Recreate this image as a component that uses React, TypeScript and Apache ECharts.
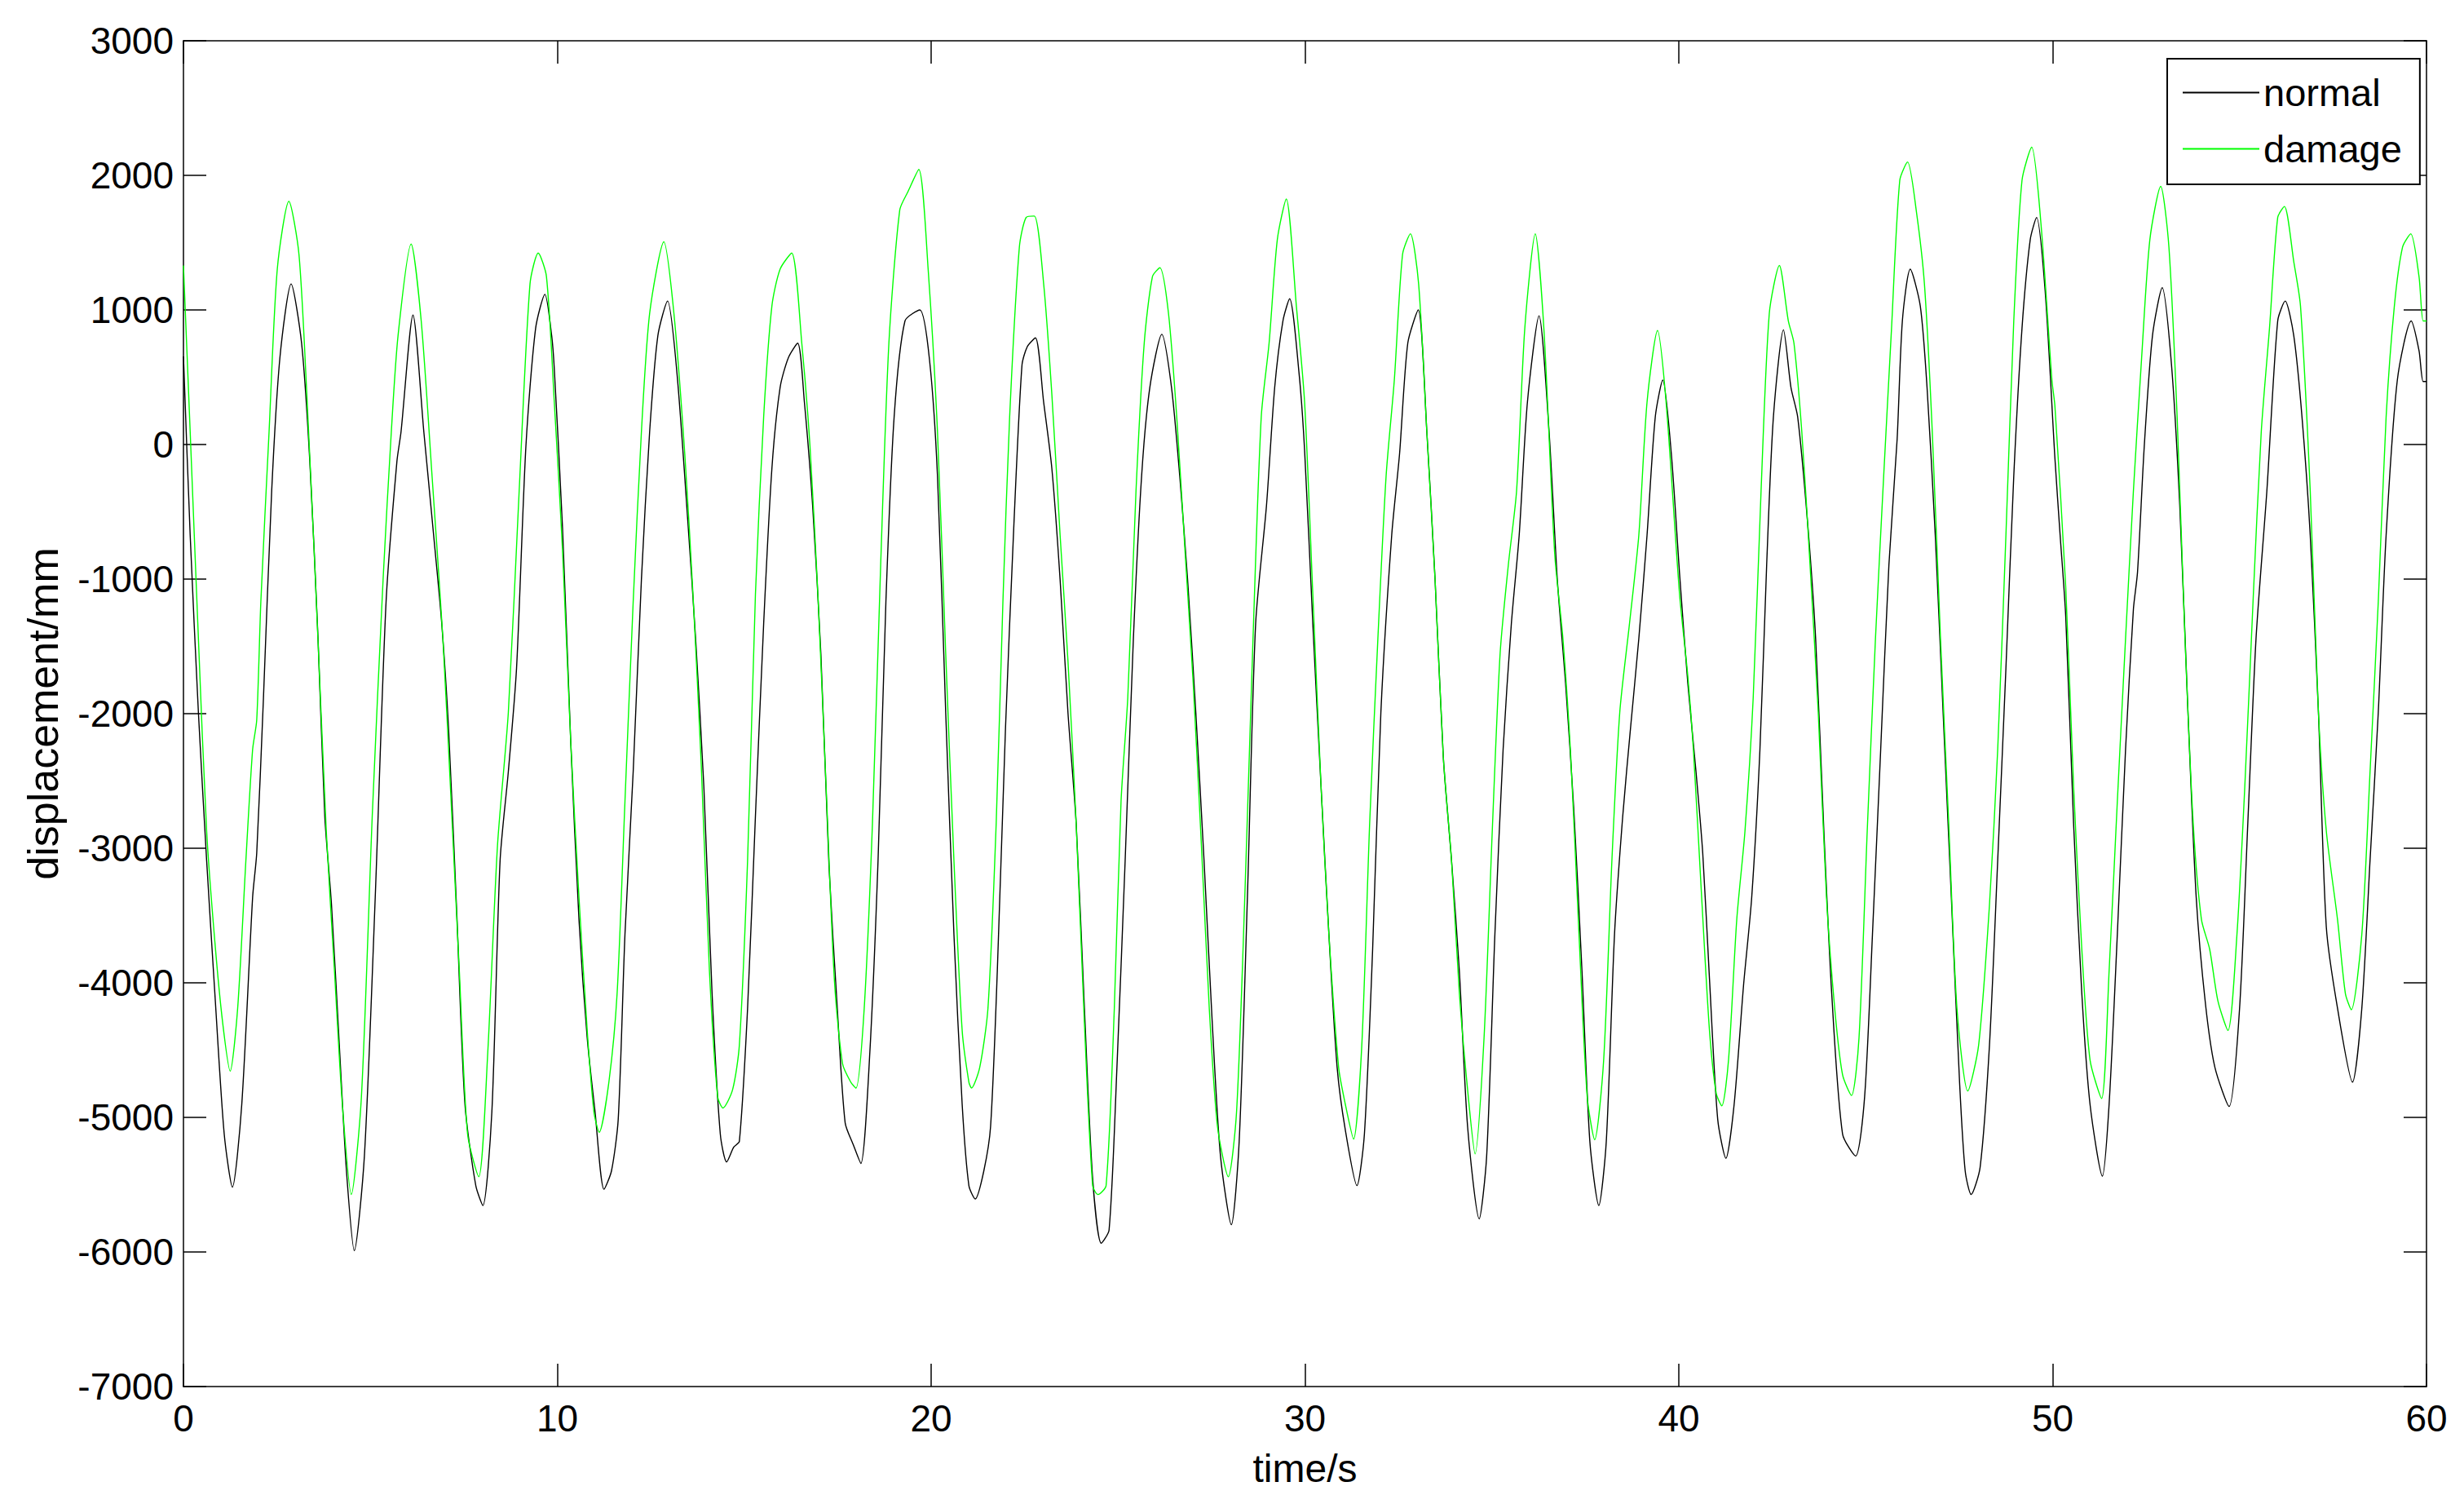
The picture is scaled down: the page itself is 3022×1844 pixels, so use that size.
import React, { useEffect, useRef } from "react";
import * as echarts from "echarts";

// time (s) and displacement (mm)
const normalData: [number, number][] = [
  [0, 655], [0.18, -674], [0.4, -1992], [0.62, -3091], [0.84, -4079], [1.09, -5123], [1.31, -5518], [1.56, -4903],
  [1.85, -3365], [1.96, -3036], [2.14, -1883], [2.36, -345], [2.58, 644], [2.88, 1193], [3.16, 753], [3.38, -125],
  [3.6, -1443], [3.78, -2761], [3.96, -3420], [4.18, -4518], [4.36, -5397], [4.57, -5990], [4.84, -5287], [5.13, -3365],
  [5.42, -1169], [5.71, -125], [5.82, 94], [6.14, 962], [6.43, 94], [6.73, -784], [6.91, -1333], [7.09, -2102],
  [7.31, -3475], [7.53, -4903], [7.82, -5507], [8.01, -5655], [8.25, -4958], [8.47, -3091], [8.69, -2432], [8.91, -1663],
  [9.16, -15], [9.42, 863], [9.67, 1116], [9.85, 808], [9.92, 561], [10.14, -620], [10.36, -2212], [10.58, -3530],
  [10.8, -4409], [11.01, -4958], [11.25, -5534], [11.45, -5397], [11.63, -5013], [11.81, -3640], [12.03, -2432], [12.25, -1004],
  [12.47, 94], [12.69, 808], [12.95, 1066], [13.2, 534], [13.49, -564], [13.7, -1443], [13.92, -2541], [14.14, -4079],
  [14.36, -5123], [14.53, -5331], [14.72, -5221], [14.87, -5178], [15.09, -4189], [15.3, -2761], [15.52, -1333], [15.74, -180],
  [15.96, 424], [16.18, 644], [16.43, 753], [16.61, 314], [16.83, -455], [17.05, -1553], [17.27, -3145], [17.49, -4189],
  [17.7, -5040], [17.92, -5205], [18.12, -5342], [18.36, -4518], [18.58, -3091], [18.79, -1169], [19.01, 204], [19.3, 918],
  [19.7, 1000], [19.96, 620], [20.17, -235], [20.39, -1992], [20.61, -3640], [20.83, -4903], [21.01, -5507], [21.18, -5606],
  [21.41, -5397], [21.59, -5068], [21.77, -3914], [21.99, -2102], [22.21, -619], [22.43, 589], [22.57, 726], [22.79, 792],
  [23.01, 314], [23.23, -180], [23.45, -1004], [23.66, -1992], [23.88, -2816], [24.1, -4189], [24.32, -5452], [24.55, -5935],
  [24.76, -5836], [24.97, -4628], [25.19, -3091], [25.41, -1443], [25.63, -235], [25.85, 424], [26.17, 819], [26.43, 424],
  [26.65, -235], [26.86, -1004], [27.08, -1992], [27.3, -3091], [27.52, -4299], [27.74, -5287], [28.03, -5798], [28.24, -5178],
  [28.46, -3365], [28.68, -1333], [28.97, -455], [29.19, 424], [29.41, 918], [29.59, 1083], [29.84, 534], [29.99, -43],
  [30.21, -1333], [30.43, -2541], [30.64, -3640], [30.86, -4628], [31.08, -5095], [31.39, -5507], [31.59, -5123], [31.81, -3750],
  [32.03, -1992], [32.32, -674], [32.53, -70], [32.75, 753], [33.03, 1000], [33.26, 94], [33.48, -1004], [33.7, -2322],
  [33.92, -3091], [34.13, -3914], [34.35, -5068], [34.66, -5754], [34.86, -5287], [35.08, -3640], [35.3, -2267], [35.52, -1333],
  [35.73, -674], [35.95, 314], [36.26, 957], [36.53, 94], [36.75, -1004], [36.97, -1773], [37.19, -2706], [37.41, -3914],
  [37.62, -5178], [37.86, -5655], [38.06, -5178], [38.28, -3640], [38.5, -2761], [38.71, -2102], [38.93, -1443], [39.15, -674],
  [39.37, 204], [39.57, 479], [39.8, -70], [40.02, -960], [40.24, -1773], [40.46, -2432], [40.64, -3036], [40.82, -3969],
  [41.04, -5013], [41.26, -5304], [41.48, -4903], [41.73, -4024], [41.95, -3365], [42.17, -2267], [42.35, -894], [42.53, 204],
  [42.8, 852], [43.0, 424], [43.18, 204], [43.44, -564], [43.66, -1443], [43.88, -2871], [44.09, -4079], [44.38, -5123],
  [44.73, -5287], [44.97, -4848], [45.18, -3640], [45.4, -2267], [45.62, -894], [45.84, 39], [45.98, 918], [46.19, 1303],
  [46.46, 1028], [46.64, 424], [46.86, -674], [47.07, -1992], [47.29, -3365], [47.51, -4738], [47.66, -5397], [47.82, -5573],
  [48.06, -5370], [48.31, -4463], [48.53, -3091], [48.75, -1663], [48.96, -235], [49.18, 863], [49.4, 1522], [49.57, 1687],
  [49.8, 1138], [50.06, -100], [50.2, -674], [50.35, -1278], [50.56, -2816], [50.78, -4079], [51.0, -4903], [51.33, -5436],
  [51.51, -4903], [51.73, -3640], [51.95, -2267], [52.16, -1224], [52.27, -949], [52.45, -15], [52.67, 808], [52.93, 1165],
  [53.18, 589], [53.4, -455], [53.62, -1992], [53.84, -3365], [54.09, -4162], [54.34, -4628], [54.72, -4919], [55.0, -4189],
  [55.22, -2816], [55.44, -1443], [55.73, -345], [56.02, 918], [56.22, 1066], [56.45, 808], [56.67, 204], [56.89, -674],
  [57.11, -1992], [57.32, -3585], [57.62, -4189], [58.02, -4738], [58.27, -4189], [58.49, -3091], [58.71, -1992], [58.92, -674],
  [59.22, 479], [59.59, 918], [59.8, 698], [59.91, 468], [60, 468],
];

const damageData: [number, number][] = [
  [0, 1330], [0.18, 94], [0.4, -1443], [0.62, -2871], [0.84, -3695], [1.05, -4299], [1.25, -4656], [1.45, -4189],
  [1.67, -3091], [1.85, -2267], [1.96, -2047], [2.07, -1169], [2.29, 94], [2.51, 1303], [2.82, 1808], [3.09, 1412],
  [3.31, 314], [3.53, -1004], [3.82, -2871], [4.04, -3914], [4.25, -4903], [4.49, -5573], [4.76, -4848], [5.05, -2761],
  [5.34, -1004], [5.56, 94], [5.74, 808], [6.09, 1489], [6.36, 918], [6.65, -235], [6.94, -1443], [7.16, -2651],
  [7.38, -3914], [7.6, -5123], [7.9, -5441], [8.14, -4518], [8.4, -2981], [8.69, -1992], [8.98, -345], [9.27, 1193],
  [9.49, 1423], [9.71, 1248], [9.92, 314], [10.14, -784], [10.36, -2212], [10.58, -3365], [10.8, -4354], [10.98, -4958],
  [11.12, -5111], [11.38, -4738], [11.6, -4079], [11.81, -2651], [12.03, -1169], [12.25, 94], [12.47, 973], [12.85, 1506],
  [13.12, 973], [13.41, -70], [13.63, -1114], [13.85, -2377], [14.07, -3914], [14.29, -4848], [14.43, -4930], [14.69, -4793],
  [14.87, -4463], [15.09, -3091], [15.3, -1114], [15.52, 204], [15.74, 1028], [15.96, 1303], [16.27, 1423], [16.54, 753],
  [16.76, -15], [16.98, -1169], [17.19, -2541], [17.41, -3969], [17.63, -4601], [17.85, -4738], [17.99, -4782], [18.21, -4189],
  [18.43, -2816], [18.65, -894], [18.87, 753], [19.16, 1742], [19.38, 1879], [19.67, 2044], [19.92, 1303], [20.17, 94],
  [20.39, -1553], [20.61, -3091], [20.83, -4354], [21.01, -4738], [21.08, -4782], [21.3, -4628], [21.52, -4189], [21.74, -2816],
  [21.92, -1169], [22.1, 204], [22.36, 1467], [22.54, 1687], [22.76, 1698], [23.01, 1193], [23.23, 369], [23.45, -674],
  [23.66, -1608], [23.88, -2816], [24.1, -4299], [24.32, -5507], [24.46, -5573], [24.68, -5507], [24.9, -4189], [25.08, -2651],
  [25.26, -1882], [25.48, -345], [25.7, 753], [25.92, 1248], [26.12, 1314], [26.35, 973], [26.57, 204], [26.79, -784],
  [27.01, -1773], [27.23, -2981], [27.44, -4189], [27.66, -5068], [27.95, -5441], [28.17, -4958], [28.39, -3365], [28.61, -1443],
  [28.83, 204], [29.04, 753], [29.26, 1522], [29.5, 1824], [29.77, 1028], [29.99, 314], [30.21, -1114], [30.43, -2541],
  [30.64, -3640], [30.9, -4628], [31.08, -4903], [31.3, -5161], [31.52, -4463], [31.73, -2816], [31.95, -1443], [32.17, -235],
  [32.39, 479], [32.61, 1412], [32.82, 1566], [33.04, 1193], [33.26, 94], [33.48, -1004], [33.7, -2322], [33.92, -3091],
  [34.13, -4079], [34.35, -4793], [34.55, -5271], [34.79, -4409], [35.01, -2871], [35.22, -1553], [35.44, -894], [35.66, -345],
  [35.88, 863], [36.16, 1566], [36.39, 863], [36.68, -812], [36.9, -1443], [37.11, -2322], [37.33, -3640], [37.55, -4848],
  [37.75, -5166], [37.99, -4573], [38.21, -3091], [38.42, -1992], [38.68, -1333], [38.93, -674], [39.15, 314], [39.43, 847],
  [39.66, 314], [40.02, -1114], [40.24, -1718], [40.39, -2267], [40.6, -3310], [40.82, -4354], [41.0, -4821], [41.15, -4914],
  [41.33, -4573], [41.55, -3530], [41.77, -2871], [41.99, -1882], [42.2, -345], [42.42, 973], [42.69, 1330], [42.93, 918],
  [43.08, 753], [43.29, 94], [43.51, -894], [43.73, -1992], [43.95, -3365], [44.17, -4189], [44.38, -4683], [44.62, -4837],
  [44.82, -4409], [45.04, -2871], [45.26, -1443], [45.48, -235], [45.69, 863], [45.91, 1962], [46.12, 2099], [46.35, 1742],
  [46.57, 1193], [46.78, 94], [47.0, -1443], [47.22, -2816], [47.44, -4189], [47.73, -4804], [48.02, -4463], [48.31, -3420],
  [48.53, -2267], [48.75, -674], [48.96, 918], [49.18, 1962], [49.44, 2209], [49.69, 1632], [49.98, 479], [50.06, 287],
  [50.35, -1059], [50.56, -2541], [50.78, -3750], [51.0, -4573], [51.31, -4859], [51.51, -3914], [51.73, -2651], [51.95, -1443],
  [52.16, -345], [52.38, 644], [52.6, 1522], [52.89, 1918], [53.11, 1467], [53.33, 204], [53.54, -1443], [53.76, -2816],
  [53.98, -3530], [54.2, -3750], [54.42, -4134], [54.69, -4354], [54.93, -3640], [55.14, -2541], [55.36, -1169], [55.58, 94],
  [55.8, 863], [56.02, 1687], [56.2, 1769], [56.45, 1358], [56.63, 1028], [56.89, -345], [57.11, -1992], [57.32, -2871],
  [57.62, -3530], [57.83, -4079], [57.99, -4200], [58.27, -3640], [58.49, -2432], [58.71, -1169], [58.92, 204], [59.14, 1028],
  [59.36, 1467], [59.58, 1566], [59.8, 1248], [59.91, 918], [60, 918],
];

const seriesNames = ["normal", "damage"];
const xTicks = { min: 0, max: 60, interval: 10 };
const yTicks = { min: -7000, max: 3000, interval: 1000 };

const FONT = "'Liberation Sans', Arial, Helvetica, sans-serif";

export default function App() {
  const ref = useRef<HTMLDivElement>(null);
  useEffect(() => {
    if (!ref.current) return;
    const chart = echarts.init(ref.current, null, { renderer: "svg" });
    const axisLine = { show: true, onZero: false, lineStyle: { color: "#000", width: 1.5 } };
    const axisTick = { show: true, inside: true, length: 28, lineStyle: { color: "#000", width: 1.5 } };
    const labelStyle = { color: "#000", fontFamily: FONT, fontSize: 46, formatter: (v: number) => String(v) };
    chart.setOption({
      animation: false,
      backgroundColor: "#fff",
      grid: { left: 225, top: 50, right: 46, bottom: 144, containLabel: false },
      legend: {
        data: seriesNames,
        orient: "vertical",
        left: 2658,
        top: 72,
        padding: [18, 22, 20, 18],
        itemWidth: 94,
        itemHeight: 4,
        itemGap: 22,
        backgroundColor: "#fff",
        borderColor: "#000",
        borderWidth: 2,
        borderRadius: 0,
        itemStyle: { opacity: 0 },
        textStyle: { color: "#000", fontFamily: FONT, fontSize: 47 },
      },
      xAxis: [
        {
          type: "value",
          position: "bottom",
          ...xTicks,
          name: "time/s",
          nameLocation: "middle",
          nameGap: 76,
          nameTextStyle: { color: "#000", fontFamily: FONT, fontSize: 48 },
          axisLine,
          axisTick,
          axisLabel: { ...labelStyle, margin: 16 },
          splitLine: { show: false },
        },
        {
          type: "value",
          position: "top",
          ...xTicks,
          axisLine,
          axisTick,
          axisLabel: { show: false },
          splitLine: { show: false },
        },
      ],
      yAxis: [
        {
          type: "value",
          position: "left",
          ...yTicks,
          name: "displacement/mm",
          nameLocation: "middle",
          nameGap: 146,
          nameRotate: 90,
          nameTextStyle: { color: "#000", fontFamily: FONT, fontSize: 52 },
          axisLine,
          axisTick,
          axisLabel: { ...labelStyle, margin: 12 },
          splitLine: { show: false },
        },
        {
          type: "value",
          position: "right",
          ...yTicks,
          axisLine,
          axisTick,
          axisLabel: { show: false },
          splitLine: { show: false },
        },
      ],
      series: [
        {
          name: seriesNames[0],
          type: "line",
          xAxisIndex: 0,
          yAxisIndex: 0,
          data: normalData,
          symbol: "none",
          showSymbol: false,
          smooth: 0.25,
          lineStyle: { color: "#000000", width: 1.4 },
          itemStyle: { color: "#000000" },
        },
        {
          name: seriesNames[1],
          type: "line",
          xAxisIndex: 0,
          yAxisIndex: 0,
          data: damageData,
          symbol: "none",
          showSymbol: false,
          smooth: 0.25,
          lineStyle: { color: "#00ff00", width: 1.4 },
          itemStyle: { color: "#00ff00" },
        },
      ],
    });
    return () => chart.dispose();
  }, []);
  return (
    <div
      ref={ref}
      style={{ position: "absolute", left: 0, top: 0, width: 3022, height: 1844, background: "#fff" }}
    />
  );
}
